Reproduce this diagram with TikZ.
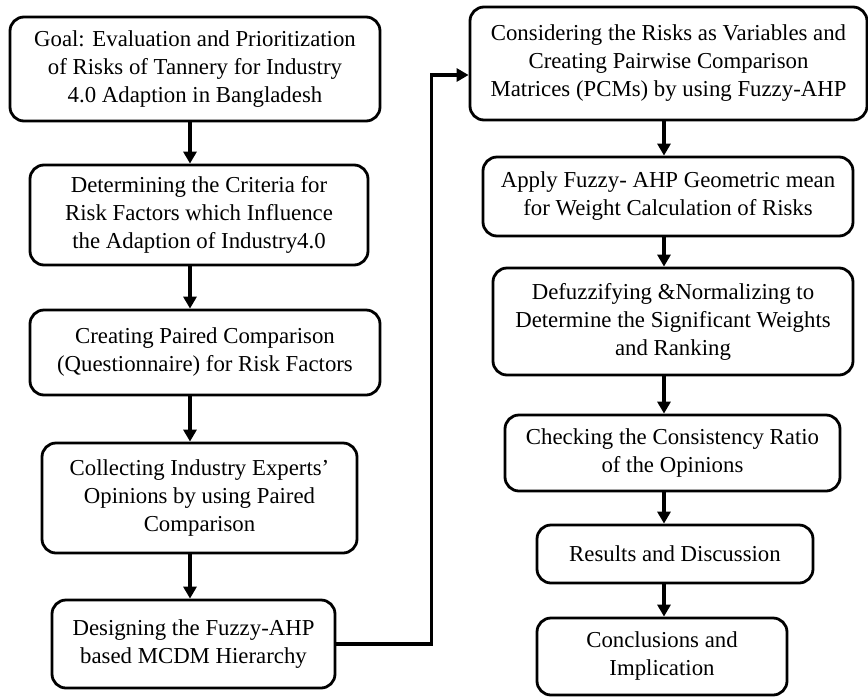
\documentclass[tikz,border=0pt]{standalone}
\usepackage{fontspec}
\setmainfont{Liberation Serif}
\usetikzlibrary{arrows.meta}

\tikzset{
  stepbox/.style={draw, line width=1.4pt, rounded corners=7pt, align=center,
    inner sep=0pt, font=\fontsize{11.4}{14}\selectfont},
  flow/.style={line width=1.8pt, -{Triangle[length=6pt,width=6.5pt]}},
}

\begin{document}
\begin{tikzpicture}[x=0.5pt,y=-0.5pt]
  \useasboundingbox (0,0) rectangle (868,697);
  \coordinate (axisL) at (190,0);
  \coordinate (axisR) at (664,0);

  % left column
  \node[stepbox, minimum width=185pt, minimum height=52pt] (goal) at (195,69)
    {Goal: Evaluation and Prioritization\\of Risks of Tannery for Industry\\4.0 Adaption in Bangladesh};
  \node[stepbox, minimum width=169pt, minimum height=50pt] (crit) at (199,215)
    {Determining the Criteria for\\Risk Factors which Influence\\the Adaption of Industry4.0};
  \node[stepbox, minimum width=175pt, minimum height=42.5pt] (quest) at (205,352.5)
    {Creating Paired Comparison\\(Questionnaire) for Risk Factors};
  \node[stepbox, minimum width=157.5pt, minimum height=55pt] (opin) at (199.5,498)
    {Collecting Industry Experts’\\Opinions by using Paired\\Comparison};
  \node[stepbox, minimum width=141.5pt, minimum height=44pt] (hier) at (193.5,644)
    {Designing the Fuzzy-AHP\\based MCDM Hierarchy};

  % right column
  \node[stepbox, minimum width=198.5pt, minimum height=56.5pt] (pcm) at (668.5,63.5)
    {Considering the Risks as Variables and\\Creating Pairwise Comparison\\Matrices (PCMs) by using Fuzzy-AHP};
  \node[stepbox, minimum width=185pt, minimum height=39.5pt] (geo) at (668,196.5)
    {Apply Fuzzy- AHP Geometric mean\\for Weight Calculation of Risks};
  \node[stepbox, minimum width=180pt, minimum height=53.5pt] (defuz) at (673,321.5)
    {Defuzzifying \&Normalizing to\\Determine the Significant Weights\\and Ranking};
  \node[stepbox, minimum width=167.5pt, minimum height=38pt] (cons) at (672.5,453)
    {Checking the Consistency Ratio\\of the Opinions};
  \node[stepbox, minimum width=138pt, minimum height=29pt] (res) at (675,554)
    {Results and Discussion};
  \node[stepbox, minimum width=125pt, minimum height=38.5pt] (concl) at (662,656.5)
    {Conclusions and\\Implication};

  % arrows
  \draw[flow] (goal.south -| axisL) -- (crit.north -| axisL);
  \draw[flow] (crit.south -| axisL) -- (quest.north -| axisL);
  \draw[flow] (quest.south -| axisL) -- (opin.north -| axisL);
  \draw[flow] (opin.south -| axisL) -- (hier.north -| axisL);
  \draw[flow] (hier.east) -- ++(95,0) |- ([yshift=-5.75pt]pcm.west);
  \draw[flow] (pcm.south -| axisR) -- (geo.north -| axisR);
  \draw[flow] (geo.south -| axisR) -- (defuz.north -| axisR);
  \draw[flow] (defuz.south -| axisR) -- (cons.north -| axisR);
  \draw[flow] (cons.south -| axisR) -- (res.north -| axisR);
  \draw[flow] (res.south -| axisR) -- (concl.north -| axisR);
\end{tikzpicture}
\end{document}
